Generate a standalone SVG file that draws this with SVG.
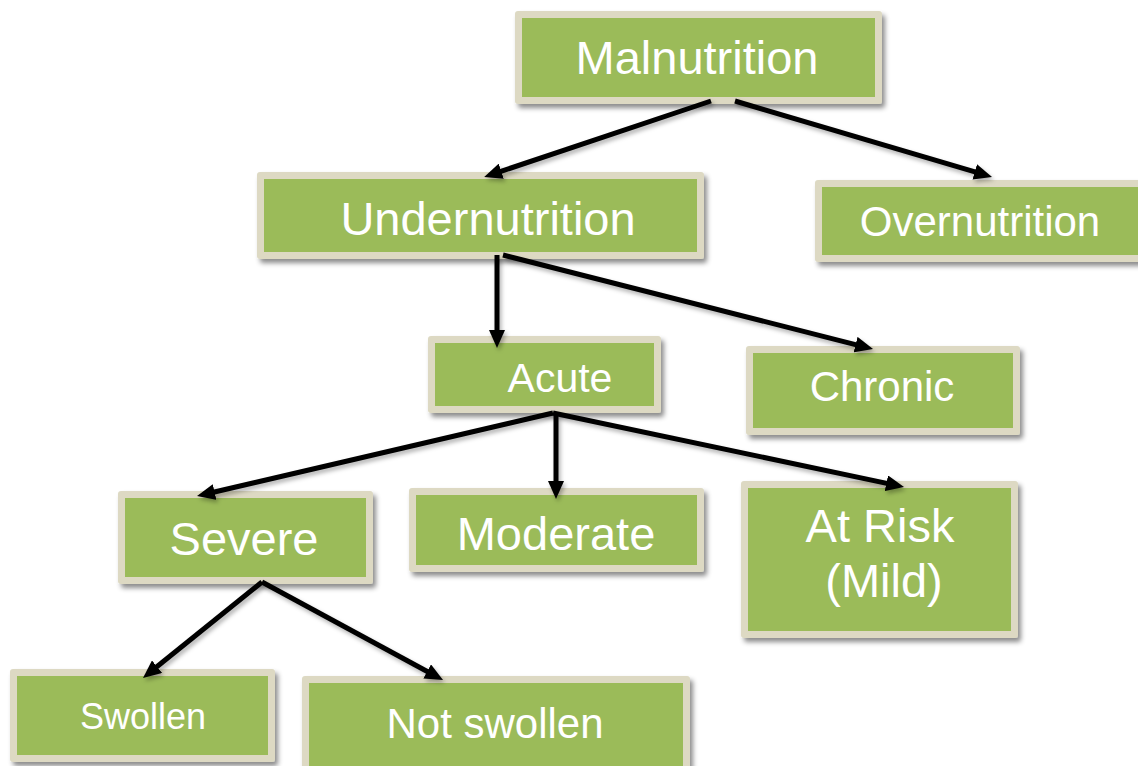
<svg xmlns="http://www.w3.org/2000/svg" width="1138" height="766" viewBox="0 0 1138 766">
  <style>
    .frame { fill: #DDD9C3; filter: url(#shadow); }
    .fill { fill: #9BBB59; }
    .label { fill: #FFFFFF; font-family: "Liberation Sans", Arial, sans-serif; text-anchor: middle; }
    .link { stroke: #000000; stroke-width: 5; fill: none; marker-end: url(#head); }
  </style>
  <defs>
    <filter id="shadow" x="-10%" y="-10%" width="125%" height="130%">
      <feDropShadow dx="3" dy="4" stdDeviation="2.5" flood-color="#000000" flood-opacity="0.45"/>
    </filter>
    <filter id="lineShadow" x="-10%" y="-10%" width="125%" height="130%">
      <feDropShadow dx="2" dy="3" stdDeviation="2" flood-color="#000000" flood-opacity="0.3"/>
    </filter>
    <marker id="head" viewBox="0 0 18 16" refX="9" refY="8" markerWidth="18" markerHeight="16" markerUnits="userSpaceOnUse" orient="auto">
      <path d="M0,0 L18,8 L0,16 Z" fill="#000000"/>
    </marker>
  </defs>

  <rect width="1138" height="766" fill="#FFFFFF"/>

  <!-- nodes -->
  <g id="malnutrition">
    <rect class="frame" x="515" y="11" width="367" height="93" rx="3"/>
    <rect class="fill" x="522" y="18" width="353" height="79"/>
    <text class="label" x="697" y="74" font-size="47">Malnutrition</text>
  </g>

  <g id="undernutrition">
    <rect class="frame" x="257" y="172" width="447" height="87" rx="3"/>
    <rect class="fill" x="264" y="179" width="433" height="73"/>
    <text class="label" x="488" y="235" font-size="47">Undernutrition</text>
  </g>

  <g id="overnutrition">
    <rect class="frame" x="815" y="180" width="340" height="82" rx="3"/>
    <rect class="fill" x="822" y="187" width="330" height="68"/>
    <text class="label" x="980" y="236" font-size="42">Overnutrition</text>
  </g>

  <g id="acute">
    <rect class="frame" x="428" y="336" width="233" height="77" rx="3"/>
    <rect class="fill" x="435" y="343" width="219" height="63"/>
    <text class="label" x="560" y="392" font-size="41">Acute</text>
  </g>

  <g id="chronic">
    <rect class="frame" x="746" y="346" width="274" height="89" rx="3"/>
    <rect class="fill" x="753" y="353" width="260" height="75"/>
    <text class="label" x="882" y="401" font-size="42">Chronic</text>
  </g>

  <g id="severe">
    <rect class="frame" x="118" y="491" width="255" height="93" rx="3"/>
    <rect class="fill" x="125" y="498" width="241" height="79"/>
    <text class="label" x="244" y="555" font-size="47">Severe</text>
  </g>

  <g id="moderate">
    <rect class="frame" x="409" y="488" width="295" height="84" rx="3"/>
    <rect class="fill" x="416" y="495" width="281" height="70"/>
    <text class="label" x="556" y="550" font-size="47">Moderate</text>
  </g>

  <g id="at-risk">
    <rect class="frame" x="741" y="481" width="277" height="157" rx="3"/>
    <rect class="fill" x="748" y="488" width="263" height="143"/>
    <text class="label" x="880" y="542" font-size="47">At Risk</text>
    <text class="label" x="884" y="597" font-size="47">(Mild)</text>
  </g>

  <g id="swollen">
    <rect class="frame" x="10" y="669" width="265" height="93" rx="3"/>
    <rect class="fill" x="17" y="676" width="251" height="79"/>
    <text class="label" x="143" y="729" font-size="36">Swollen</text>
  </g>

  <g id="not-swollen">
    <rect class="frame" x="302" y="676" width="388" height="100" rx="3"/>
    <rect class="fill" x="309" y="683" width="374" height="90"/>
    <text class="label" x="495" y="738" font-size="42">Not swollen</text>
  </g>

  <!-- connectors, drawn over the box frames -->
  <g id="connectors" filter="url(#lineShadow)">
    <line class="link" x1="711" y1="101" x2="492.7" y2="174.1"/>
    <line class="link" x1="735" y1="101" x2="983.4" y2="174.4"/>
    <line class="link" x1="497" y1="255" x2="497" y2="339"/>
    <line class="link" x1="503" y1="255" x2="864.3" y2="346.8"/>
    <line class="link" x1="553" y1="413" x2="205.8" y2="494"/>
    <line class="link" x1="556" y1="413" x2="556" y2="490"/>
    <line class="link" x1="553" y1="413" x2="895.2" y2="485.1"/>
    <line class="link" x1="262" y1="582" x2="150" y2="672.3"/>
    <line class="link" x1="262" y1="582" x2="435.1" y2="675.7"/>
  </g>
</svg>
